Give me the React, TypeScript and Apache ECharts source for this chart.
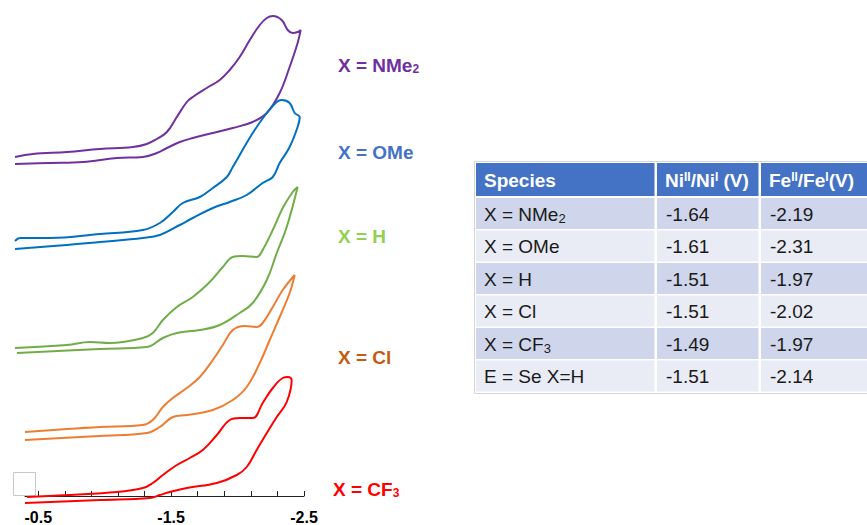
import React, { useEffect, useRef } from "react";
import * as echarts from "echarts";

// Potential axis (V), drawn with more negative potentials to the right
const potentialTickStep = 0.2;
const potentialLabels = ["-2.5", "-1.5", "-0.5"];

// Cyclic voltammograms [E (V), current (a.u., stacked offset)], forward scan then return scan
const cvNMe2: [number, number][] = [
  [-0.325, 340], [-0.46, 343], [-0.716, 345], [-0.964, 348], [-1.212, 350], [-1.317, 353], [-1.392, 358],
  [-1.468, 365], [-1.543, 380], [-1.618, 395], [-1.663, 400], [-1.768, 409], [-1.866, 417], [-1.941, 427],
  [-2.016, 440], [-2.092, 457], [-2.167, 472], [-2.22, 479], [-2.265, 481], [-2.332, 477], [-2.377, 467],
  [-2.415, 464], [-2.452, 465], [-2.475, 467],
  [-2.452, 454], [-2.392, 430], [-2.317, 404], [-2.22, 384], [-2.114, 375], [-1.964, 369], [-1.814, 364],
  [-1.663, 359], [-1.565, 355], [-1.468, 349], [-1.392, 344], [-1.287, 340], [-1.092, 339], [-0.836, 335],
  [-0.588, 334], [-0.325, 333],
];
const cvOMe: [number, number][] = [
  [-0.325, 256], [-0.362, 259], [-0.588, 259], [-0.964, 263], [-1.287, 267], [-1.415, 274], [-1.513, 285],
  [-1.588, 294], [-1.716, 300], [-1.814, 309], [-1.919, 320], [-1.964, 330], [-2.114, 364], [-2.22, 384],
  [-2.295, 395], [-2.332, 397], [-2.392, 394], [-2.43, 384], [-2.468, 380],
  [-2.452, 370], [-2.392, 350], [-2.317, 334], [-2.265, 320], [-2.189, 314], [-2.069, 302], [-1.941, 295],
  [-1.814, 289], [-1.663, 279], [-1.565, 272], [-1.415, 262], [-1.287, 259], [-0.964, 255], [-0.716, 252],
  [-0.325, 248],
];
const cvH: [number, number][] = [
  [-0.325, 149], [-0.716, 152], [-0.889, 155], [-1.039, 154], [-1.287, 159], [-1.362, 164], [-1.438, 177],
  [-1.543, 190], [-1.663, 200], [-1.791, 215], [-1.889, 230], [-1.964, 240], [-2.039, 241], [-2.144, 240],
  [-2.189, 247], [-2.265, 267], [-2.34, 289], [-2.415, 305], [-2.452, 310],
  [-2.37, 270], [-2.295, 244], [-2.22, 217], [-2.114, 194], [-2.016, 184], [-1.866, 172], [-1.716, 167],
  [-1.543, 164], [-1.438, 159], [-1.317, 150], [-0.964, 148], [-0.34, 144],
];
const cvCl: [number, number][] = [
  [-0.4, 65], [-0.716, 68], [-0.964, 70], [-1.287, 72], [-1.362, 77], [-1.438, 90], [-1.513, 99],
  [-1.618, 109], [-1.716, 120], [-1.814, 137], [-1.889, 152], [-1.964, 167], [-2.054, 171], [-2.144, 170],
  [-2.189, 174], [-2.265, 190], [-2.34, 207], [-2.43, 222],
  [-2.392, 204], [-2.317, 180], [-2.242, 157], [-2.167, 134], [-2.069, 110], [-1.964, 97], [-1.814, 87],
  [-1.618, 82], [-1.513, 80], [-1.415, 70], [-1.317, 64], [-0.964, 61], [-0.4, 57],
];
const cvCF3: [number, number][] = [
  [-0.415, 0], [-0.716, 2], [-1.092, 5], [-1.287, 9], [-1.362, 14], [-1.438, 22], [-1.543, 32],
  [-1.64, 39], [-1.738, 47], [-1.844, 62], [-1.941, 77], [-2.016, 79], [-2.114, 79], [-2.189, 94],
  [-2.265, 109], [-2.34, 119], [-2.38, 120], [-2.407, 117],
  [-2.37, 95], [-2.295, 80], [-2.22, 64], [-2.144, 47], [-2.069, 30], [-1.994, 22], [-1.844, 14],
  [-1.618, 9], [-1.49, 5], [-1.415, 2], [-1.34, -1], [-0.964, -3], [-0.4, -6],
];

const seriesNames = ["X = NMe2", "X = OMe", "X = H", "X = Cl", "X = CF3"];
const seriesLabels = ["X = NMe{sub|2}", "X = OMe", "X = H", "X = Cl", "X = CF{sub|3}"];
const seriesData = [cvNMe2, cvOMe, cvH, cvCl, cvCF3];
const lineColors = ["#7030A0", "#0070C0", "#70AD47", "#ED7D31", "#FF0000"];
const labelColors = ["#7030A0", "#4472C4", "#92D050", "#C55A11", "#FF0000"];
const labelPos: [number, number][] = [[338, 65], [338, 152], [338, 236], [338, 357], [333, 489]];

// Table of reduction potentials
const tableHeader = ["Species", "Ni{sup|II}/Ni{sup|I} (V)", "Fe{sup|II}/Fe{sup|I}(V)"];
const tableSpecies = ["X = NMe{sub|2}", "X = OMe", "X = H", "X = Cl", "X = CF{sub|3}", "E = Se X=H"];
const tableNi = ["-1.64", "-1.61", "-1.51", "-1.51", "-1.49", "-1.51"];
const tableFe = ["-2.19", "-2.31", "-1.97", "-2.02", "-1.97", "-2.14"];

const FONT = "'Liberation Sans', Arial, Helvetica, sans-serif";

export default function App() {
  const ref = useRef<HTMLDivElement>(null);
  useEffect(() => {
    if (!ref.current) return;
    const chart = echarts.init(ref.current, undefined, { renderer: "svg" });

    const graphics: any[] = [];
    seriesLabels.forEach((t, i) => {
      graphics.push({
        type: "text",
        x: labelPos[i][0],
        y: labelPos[i][1],
        style: {
          text: t,
          fill: labelColors[i],
          fontFamily: FONT,
          fontWeight: "bold",
          fontSize: 19,
          verticalAlign: "middle",
          align: "left",
          rich: {
            sub: { fontSize: 12, fontWeight: "bold", fontFamily: FONT, fill: labelColors[i], verticalAlign: "bottom", padding: [8, 0, 0, 0] },
          },
        },
      });
    });
    graphics.push({
      type: "rect",
      shape: { x: 13.5, y: 472.5, width: 22, height: 23 },
      style: { fill: "#fff", stroke: "#C8C8C8", lineWidth: 1 },
    });

    const tx = 476;
    const colX = [476, 657, 761];
    const colW = [180, 103, 110];
    const headY = 163;
    const headH = 33;
    const rowY0 = 197;
    const rowH = 32.5;
    const tableBottom = rowY0 + rowH * tableSpecies.length;
    graphics.push({
      type: "rect",
      shape: { x: tx - 1.5, y: headY - 1.5, width: 400, height: tableBottom - headY + 3 },
      style: { fill: "#fff", stroke: "#D6D6D6", lineWidth: 1 },
    });
    tableHeader.forEach((h, c) => {
      graphics.push({
        type: "rect",
        shape: { x: colX[c], y: headY, width: colW[c] - 1.5, height: headH },
        style: { fill: "#4472C4" },
      });
      graphics.push({
        type: "text",
        x: colX[c] + 8,
        y: headY + headH / 2 + 1,
        style: {
          text: h,
          fill: "#fff",
          fontFamily: FONT,
          fontWeight: "bold",
          fontSize: 19,
          verticalAlign: "middle",
          align: "left",
          rich: {
            sup: { fontSize: 12, fontWeight: "bold", fontFamily: FONT, fill: "#fff", verticalAlign: "top", padding: [0, 0, 8, 0] },
          },
        },
      });
    });
    tableSpecies.forEach((s, r) => {
      const y = rowY0 + rowH * r;
      const fill = r % 2 === 0 ? "#CFD5EA" : "#E9EBF5";
      const cells = [s, tableNi[r], tableFe[r]];
      cells.forEach((t, c) => {
        graphics.push({
          type: "rect",
          shape: { x: colX[c], y: y + 1, width: colW[c] - 1.5, height: rowH - 1.5 },
          style: { fill },
        });
        graphics.push({
          type: "text",
          x: colX[c] + (c === 0 ? 8 : 9),
          y: y + rowH / 2 + 1,
          style: {
            text: t,
            fill: "#1A1A1A",
            fontFamily: FONT,
            fontSize: 19,
            verticalAlign: "middle",
            align: "left",
            rich: {
              sub: { fontSize: 13, fontFamily: FONT, fill: "#1A1A1A", verticalAlign: "bottom", padding: [8, 0, 0, 0] },
            },
          },
        });
      });
    });

    chart.setOption({
      animation: false,
      backgroundColor: "#fff",
      grid: [
        { left: 15, width: 289, top: 0, height: 517 },
        { left: 25, width: 279, top: 0, height: 497 },
      ],
      xAxis: [
        { type: "value", gridIndex: 0, inverse: true, min: -2.5, max: -0.325, show: false, splitLine: { show: false } },
        {
          type: "value",
          gridIndex: 1,
          inverse: true,
          min: -2.5,
          max: -0.4,
          interval: potentialTickStep,
          axisLine: { show: true, lineStyle: { color: "#222", width: 1 } },
          axisTick: { show: true, inside: true, length: 5, lineStyle: { color: "#222" } },
          axisLabel: {
            show: true,
            showMinLabel: true,
            showMaxLabel: false,
            formatter: (v: number) => {
              const s = v.toFixed(1);
              return potentialLabels.indexOf(s) >= 0 ? s : "";
            },
            fontFamily: FONT,
            fontWeight: "bold",
            fontSize: 16,
            color: "#000",
            margin: 13,
          },
          splitLine: { show: false },
        },
      ],
      yAxis: [
        { type: "value", gridIndex: 0, min: -20, max: 497, show: false, splitLine: { show: false } },
        { type: "value", gridIndex: 1, min: 0, max: 497, show: false, splitLine: { show: false } },
      ],
      series: [
        ...seriesData.map((d, i) => ({
          name: seriesNames[i],
          type: "line",
          xAxisIndex: 0,
          yAxisIndex: 0,
          data: d,
          showSymbol: false,
          smooth: 0.4,
          clip: false,
          lineStyle: { color: lineColors[i], width: 2 },
          itemStyle: { color: lineColors[i] },
          z: 3,
        })),
        { type: "line", xAxisIndex: 1, yAxisIndex: 1, data: [], showSymbol: false },
      ],
      graphic: graphics,
    });
    return () => chart.dispose();
  }, []);
  return (
    <div
      ref={ref}
      style={{ position: "fixed", left: 0, top: 0, width: 867, height: 525, background: "#fff" }}
    />
  );
}
